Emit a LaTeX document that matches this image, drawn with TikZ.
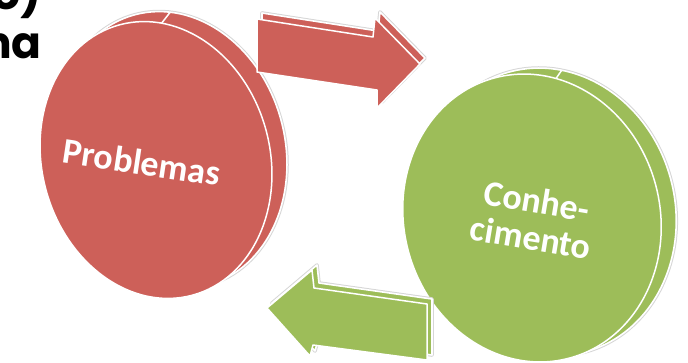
\documentclass[tikz,border=0pt]{standalone}
\usepackage{fontspec}
\setmainfont{Carlito}
\newfontfamily\geofont{Poppins}
\definecolor{discred}{RGB}{205,96,89}
\definecolor{discgreen}{RGB}{157,189,89}
\begin{document}
\begin{tikzpicture}[x=1pt,y=-1pt,
  halo/.style={draw=white, line width=1.6pt, line join=round,
    preaction={draw=black!16, line width=3.6pt, line join=round}},
  rim/.style={draw=white, line width=1.5pt, line join=round},
  disclabel/.style={text=white, inner sep=0pt, align=center,
    font=\fontsize{36}{37}\selectfont\bfseries},
  heading/.style={font=\geofont\fontsize{44}{48}\selectfont\bfseries,
    anchor=base east, inner sep=0pt}]
\useasboundingbox (0,0) rectangle (688,362);
\clip (0,0) rectangle (688,362);

% heading text running in from the left edge
\node[heading] (h1) at (42,9) {ão)};
\node[heading] (h2) at (42,58) {na};

% ---- red disc: back face, side edge, front face ----
\coordinate (rback) at (171,150);
\coordinate (rfront) at (156,160);
\path[fill=discred, halo] (rback) ellipse [x radius=114pt, y radius=140pt, rotate=15];
\begin{scope}
  \clip (rback) ellipse [x radius=114pt, y radius=140pt, rotate=15];
  \draw[rim] (161,24) -- (175,6);
\end{scope}
\path[fill=discred, rim] (rfront) ellipse [x radius=114pt, y radius=140pt, rotate=15];
\node[disclabel, rotate=-8.5] (prob) at (142,162) {Problemas};

% ---- green disc ----
\coordinate (gback) at (547,212);
\coordinate (gfront) at (532,218);
\path[fill=discgreen, halo] (gback) ellipse [x radius=128pt, y radius=145pt, rotate=15];
\begin{scope}
  \clip (gback) ellipse [x radius=128pt, y radius=145pt, rotate=15];
  \draw[rim] (555,80) -- (566,64);
\end{scope}
\path[fill=discgreen, rim] (gfront) ellipse [x radius=128pt, y radius=145pt, rotate=15];
\node[disclabel, rotate=-9.5] (conh) at (534,219) {Conhe-\\cimento};

% ---- red block arrow (Problemas -> Conhecimento) ----
\begin{scope}[shift={(5,-6)}]
  \path[fill=discred, halo] (257,19) -- (373,37) -- (375,18) -- (420,64)
    -- (377,108) -- (377,90) -- (257,72) -- cycle;
\end{scope}
\path[fill=discred, rim] (257,19) -- (373,37) -- (375,18) -- (420,64)
    -- (377,108) -- (377,90) -- (257,72) -- cycle;

% ---- green block arrow (Conhecimento -> Problemas) ----
\begin{scope}[shift={(5,-5)}]
  \path[fill=discgreen, halo] (267,308) -- (312,270) -- (314,288) -- (427,304)
    -- (427,360) -- (313,345) -- (310,356) -- cycle;
\end{scope}
\path[fill=discgreen, rim] (267,308) -- (312,270) -- (314,288) -- (427,304)
    -- (427,360) -- (313,345) -- (310,356) -- cycle;
\end{tikzpicture}
\end{document}
